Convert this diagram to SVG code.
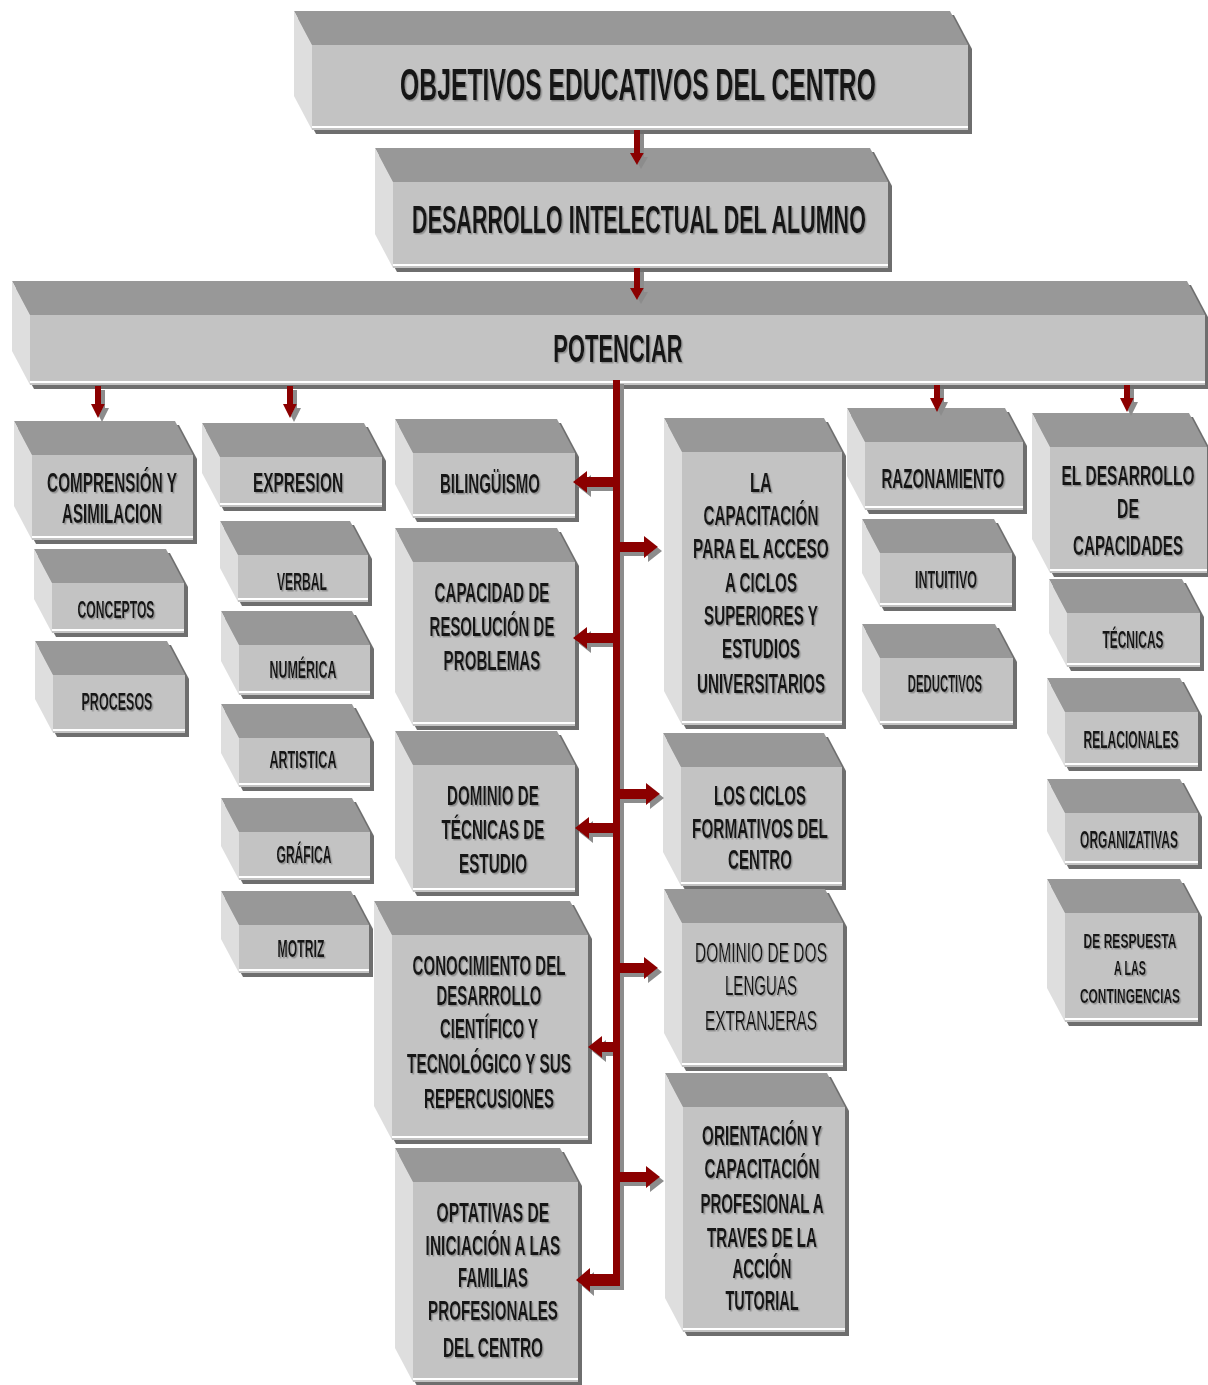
<svg xmlns="http://www.w3.org/2000/svg" width="1208" height="1385" viewBox="0 0 1208 1385">
<defs>
<filter id="bs" x="-5%" y="-10%" width="115%" height="130%"><feDropShadow dx="4" dy="4" stdDeviation="0.4" flood-color="#6e6e6e" flood-opacity="1"/></filter>
<filter id="ts" x="-5%" y="-20%" width="115%" height="150%"><feDropShadow dx="2.5" dy="1.5" stdDeviation="0.5" flood-color="#8a8a8a" flood-opacity="0.9"/></filter>
<filter id="cs" x="-5%" y="-5%" width="115%" height="115%"><feDropShadow dx="4" dy="4" stdDeviation="0.5" flood-color="#8c8c8c" flood-opacity="1"/></filter>
<style>
.top{fill:#989898}
.side{fill:#dedede}
.front{fill:#c3c3c3}
.hl{stroke:#ffffff;stroke-width:2}
text{font-family:"Liberation Sans",Arial,sans-serif;font-weight:bold;fill:#141414;text-anchor:middle;filter:url(#ts)}
.xl{font-size:44px}
.l{font-size:39px}
.m{font-size:28px}
.s{font-size:23px}
.xs{font-size:21px}
.nb{font-weight:normal}
.arr{fill:#8b0000}
</style>
</defs>
<rect width="1208" height="1385" fill="#ffffff"/>

<g id="n-objetivos"><g transform="translate(312,45)" filter="url(#bs)"><polygon class="top" points="-18,-34 638,-34 656,0 0,0"/><polygon class="side" points="-18,-34 0,0 0,85 -18,51"/><rect class="front" width="656" height="85"/><line class="hl" x1="0" y1="82" x2="656" y2="82"/></g>
<g transform="matrix(0.55 0 0 1 287.1 0)"><text class="xl" x="638" y="100" textLength="865" lengthAdjust="spacingAndGlyphs">OBJETIVOS EDUCATIVOS DEL CENTRO</text></g></g>

<g id="n-desarrollo"><g transform="translate(393,182)" filter="url(#bs)"><polygon class="top" points="-18,-34 477,-34 495,0 0,0"/><polygon class="side" points="-18,-34 0,0 0,86 -18,52"/><rect class="front" width="495" height="86"/><line class="hl" x1="0" y1="83" x2="495" y2="83"/></g>
<g transform="matrix(0.55 0 0 1 287.55 0)"><text class="l" x="639" y="233" textLength="825" lengthAdjust="spacingAndGlyphs">DESARROLLO INTELECTUAL DEL ALUMNO</text></g></g>

<g id="n-potenciar"><g transform="translate(30,315)" filter="url(#bs)"><polygon class="top" points="-18,-34 1157,-34 1175,0 0,0"/><polygon class="side" points="-18,-34 0,0 0,70 -18,36"/><rect class="front" width="1175" height="70"/><line class="hl" x1="0" y1="67" x2="1175" y2="67"/></g>
<g transform="matrix(0.55 0 0 1 278.1 0)"><text class="l" x="618" y="362" textLength="235" lengthAdjust="spacingAndGlyphs">POTENCIAR</text></g></g>

<g id="n-comprension"><g transform="translate(32,455)" filter="url(#bs)"><polygon class="top" points="-18,-34 143,-34 161,0 0,0"/><polygon class="side" points="-18,-34 0,0 0,85 -18,51"/><rect class="front" width="161" height="85"/><line class="hl" x1="0" y1="82" x2="161" y2="82"/></g>
<g transform="matrix(0.55 0 0 1 50.4 0)"><text class="m" x="112" y="492" textLength="236" lengthAdjust="spacingAndGlyphs">COMPRENSIÓN Y</text>
<text class="m" x="112" y="523" textLength="182" lengthAdjust="spacingAndGlyphs">ASIMILACION</text></g></g>

<g id="n-expresion"><g transform="translate(220,457)" filter="url(#bs)"><polygon class="top" points="-18,-34 144,-34 162,0 0,0"/><polygon class="side" points="-18,-34 0,0 0,50 -18,16"/><rect class="front" width="162" height="50"/><line class="hl" x1="0" y1="47" x2="162" y2="47"/></g>
<g transform="matrix(0.55 0 0 1 134.1 0)"><text class="m" x="298" y="492" textLength="164" lengthAdjust="spacingAndGlyphs">EXPRESION</text></g></g>

<g id="n-conceptos"><g transform="translate(52,583)" filter="url(#bs)"><polygon class="top" points="-18,-34 114,-34 132,0 0,0"/><polygon class="side" points="-18,-34 0,0 0,50 -18,16"/><rect class="front" width="132" height="50"/><line class="hl" x1="0" y1="47" x2="132" y2="47"/></g>
<g transform="matrix(0.55 0 0 1 52.2 0)"><text class="s" x="116" y="618" textLength="140" lengthAdjust="spacingAndGlyphs">CONCEPTOS</text></g></g>

<g id="n-procesos"><g transform="translate(53,675)" filter="url(#bs)"><polygon class="top" points="-18,-34 114,-34 132,0 0,0"/><polygon class="side" points="-18,-34 0,0 0,58 -18,24"/><rect class="front" width="132" height="58"/><line class="hl" x1="0" y1="55" x2="132" y2="55"/></g>
<g transform="matrix(0.55 0 0 1 52.65 0)"><text class="s" x="117" y="710" textLength="129" lengthAdjust="spacingAndGlyphs">PROCESOS</text></g></g>

<g id="n-verbal"><g transform="translate(238,555)" filter="url(#bs)"><polygon class="top" points="-18,-34 112,-34 130,0 0,0"/><polygon class="side" points="-18,-34 0,0 0,47 -18,13"/><rect class="front" width="130" height="47"/><line class="hl" x1="0" y1="44" x2="130" y2="44"/></g>
<g transform="matrix(0.55 0 0 1 135.9 0)"><text class="s" x="302" y="590" textLength="91" lengthAdjust="spacingAndGlyphs">VERBAL</text></g></g>

<g id="n-numerica"><g transform="translate(239,645)" filter="url(#bs)"><polygon class="top" points="-18,-34 113,-34 131,0 0,0"/><polygon class="side" points="-18,-34 0,0 0,50 -18,16"/><rect class="front" width="131" height="50"/><line class="hl" x1="0" y1="47" x2="131" y2="47"/></g>
<g transform="matrix(0.55 0 0 1 136.35 0)"><text class="s" x="303" y="678" textLength="122" lengthAdjust="spacingAndGlyphs">NUMÉRICA</text></g></g>

<g id="n-artistica"><g transform="translate(239,738)" filter="url(#bs)"><polygon class="top" points="-18,-34 113,-34 131,0 0,0"/><polygon class="side" points="-18,-34 0,0 0,49 -18,15"/><rect class="front" width="131" height="49"/><line class="hl" x1="0" y1="46" x2="131" y2="46"/></g>
<g transform="matrix(0.55 0 0 1 136.35 0)"><text class="s" x="303" y="768" textLength="122" lengthAdjust="spacingAndGlyphs">ARTISTICA</text></g></g>

<g id="n-grafica"><g transform="translate(239,832)" filter="url(#bs)"><polygon class="top" points="-18,-34 113,-34 131,0 0,0"/><polygon class="side" points="-18,-34 0,0 0,48 -18,14"/><rect class="front" width="131" height="48"/><line class="hl" x1="0" y1="45" x2="131" y2="45"/></g>
<g transform="matrix(0.55 0 0 1 136.8 0)"><text class="s" x="304" y="863" textLength="100" lengthAdjust="spacingAndGlyphs">GRÁFICA</text></g></g>

<g id="n-motriz"><g transform="translate(239,925)" filter="url(#bs)"><polygon class="top" points="-18,-34 112,-34 130,0 0,0"/><polygon class="side" points="-18,-34 0,0 0,48 -18,14"/><rect class="front" width="130" height="48"/><line class="hl" x1="0" y1="45" x2="130" y2="45"/></g>
<g transform="matrix(0.55 0 0 1 135.45 0)"><text class="s" x="301" y="957" textLength="85" lengthAdjust="spacingAndGlyphs">MOTRIZ</text></g></g>

<g id="n-bilinguismo"><g transform="translate(413,453)" filter="url(#bs)"><polygon class="top" points="-18,-34 144,-34 162,0 0,0"/><polygon class="side" points="-18,-34 0,0 0,65 -18,31"/><rect class="front" width="162" height="65"/><line class="hl" x1="0" y1="62" x2="162" y2="62"/></g>
<g transform="matrix(0.55 0 0 1 220.5 0)"><text class="m" x="490" y="493" textLength="182" lengthAdjust="spacingAndGlyphs">BILINGÜISMO</text></g></g>

<g id="n-capacidad"><g transform="translate(413,562)" filter="url(#bs)"><polygon class="top" points="-18,-34 144,-34 162,0 0,0"/><polygon class="side" points="-18,-34 0,0 0,164 -18,130"/><rect class="front" width="162" height="164"/><line class="hl" x1="0" y1="161" x2="162" y2="161"/></g>
<g transform="matrix(0.55 0 0 1 221.4 0)"><text class="m" x="492" y="602" textLength="209" lengthAdjust="spacingAndGlyphs">CAPACIDAD DE</text>
<text class="m" x="492" y="636" textLength="227" lengthAdjust="spacingAndGlyphs">RESOLUCIÓN DE</text>
<text class="m" x="492" y="670" textLength="176" lengthAdjust="spacingAndGlyphs">PROBLEMAS</text></g></g>

<g id="n-dominio-tecnicas"><g transform="translate(413,765)" filter="url(#bs)"><polygon class="top" points="-18,-34 144,-34 162,0 0,0"/><polygon class="side" points="-18,-34 0,0 0,127 -18,93"/><rect class="front" width="162" height="127"/><line class="hl" x1="0" y1="124" x2="162" y2="124"/></g>
<g transform="matrix(0.55 0 0 1 221.85 0)"><text class="m" x="493" y="805" textLength="167" lengthAdjust="spacingAndGlyphs">DOMINIO DE</text>
<text class="m" x="493" y="839" textLength="187" lengthAdjust="spacingAndGlyphs">TÉCNICAS DE</text>
<text class="m" x="493" y="873" textLength="124" lengthAdjust="spacingAndGlyphs">ESTUDIO</text></g></g>

<g id="n-conocimiento"><g transform="translate(392,935)" filter="url(#bs)"><polygon class="top" points="-18,-34 178,-34 196,0 0,0"/><polygon class="side" points="-18,-34 0,0 0,205 -18,171"/><rect class="front" width="196" height="205"/><line class="hl" x1="0" y1="202" x2="196" y2="202"/></g>
<g transform="matrix(0.55 0 0 1 220.05 0)"><text class="m" x="489" y="975" textLength="278" lengthAdjust="spacingAndGlyphs">CONOCIMIENTO DEL</text>
<text class="m" x="489" y="1005" textLength="191" lengthAdjust="spacingAndGlyphs">DESARROLLO</text>
<text class="m" x="489" y="1038" textLength="178" lengthAdjust="spacingAndGlyphs">CIENTÍFICO Y</text>
<text class="m" x="489" y="1073" textLength="298" lengthAdjust="spacingAndGlyphs">TECNOLÓGICO Y SUS</text>
<text class="m" x="489" y="1108" textLength="236" lengthAdjust="spacingAndGlyphs">REPERCUSIONES</text></g></g>

<g id="n-optativas"><g transform="translate(413,1182)" filter="url(#bs)"><polygon class="top" points="-18,-34 147,-34 165,0 0,0"/><polygon class="side" points="-18,-34 0,0 0,200 -18,166"/><rect class="front" width="165" height="200"/><line class="hl" x1="0" y1="197" x2="165" y2="197"/></g>
<g transform="matrix(0.55 0 0 1 221.85 0)"><text class="m" x="493" y="1222" textLength="205" lengthAdjust="spacingAndGlyphs">OPTATIVAS DE</text>
<text class="m" x="493" y="1255" textLength="245" lengthAdjust="spacingAndGlyphs">INICIACIÓN A LAS</text>
<text class="m" x="493" y="1287" textLength="127" lengthAdjust="spacingAndGlyphs">FAMILIAS</text>
<text class="m" x="493" y="1320" textLength="236" lengthAdjust="spacingAndGlyphs">PROFESIONALES</text>
<text class="m" x="493" y="1357" textLength="182" lengthAdjust="spacingAndGlyphs">DEL CENTRO</text></g></g>

<g id="n-la-capacitacion"><g transform="translate(682,452)" filter="url(#bs)"><polygon class="top" points="-18,-34 142,-34 160,0 0,0"/><polygon class="side" points="-18,-34 0,0 0,273 -18,239"/><rect class="front" width="160" height="273"/><line class="hl" x1="0" y1="270" x2="160" y2="270"/></g>
<g transform="matrix(0.55 0 0 1 342.45 0)"><text class="m" x="761" y="492" textLength="40" lengthAdjust="spacingAndGlyphs">LA</text>
<text class="m" x="761" y="525" textLength="209" lengthAdjust="spacingAndGlyphs">CAPACITACIÓN</text>
<text class="m" x="761" y="558" textLength="247" lengthAdjust="spacingAndGlyphs">PARA EL ACCESO</text>
<text class="m" x="761" y="592" textLength="131" lengthAdjust="spacingAndGlyphs">A CICLOS</text>
<text class="m" x="761" y="625" textLength="207" lengthAdjust="spacingAndGlyphs">SUPERIORES Y</text>
<text class="m" x="761" y="658" textLength="142" lengthAdjust="spacingAndGlyphs">ESTUDIOS</text>
<text class="m" x="761" y="693" textLength="233" lengthAdjust="spacingAndGlyphs">UNIVERSITARIOS</text></g></g>

<g id="n-ciclos"><g transform="translate(681,767)" filter="url(#bs)"><polygon class="top" points="-18,-34 143,-34 161,0 0,0"/><polygon class="side" points="-18,-34 0,0 0,119 -18,85"/><rect class="front" width="161" height="119"/><line class="hl" x1="0" y1="116" x2="161" y2="116"/></g>
<g transform="matrix(0.55 0 0 1 342 0)"><text class="m" x="760" y="805" textLength="167" lengthAdjust="spacingAndGlyphs">LOS CICLOS</text>
<text class="m" x="760" y="838" textLength="247" lengthAdjust="spacingAndGlyphs">FORMATIVOS DEL</text>
<text class="m" x="760" y="869" textLength="116" lengthAdjust="spacingAndGlyphs">CENTRO</text></g></g>

<g id="n-lenguas"><g transform="translate(682,923)" filter="url(#bs)"><polygon class="top" points="-18,-34 143,-34 161,0 0,0"/><polygon class="side" points="-18,-34 0,0 0,144 -18,110"/><rect class="front" width="161" height="144"/><line class="hl" x1="0" y1="141" x2="161" y2="141"/></g>
<g transform="matrix(0.55 0 0 1 342.45 0)"><text class="m nb" x="761" y="962" textLength="240" lengthAdjust="spacingAndGlyphs">DOMINIO DE DOS</text>
<text class="m nb" x="761" y="995" textLength="131" lengthAdjust="spacingAndGlyphs">LENGUAS</text>
<text class="m nb" x="761" y="1030" textLength="204" lengthAdjust="spacingAndGlyphs">EXTRANJERAS</text></g></g>

<g id="n-orientacion"><g transform="translate(683,1107)" filter="url(#bs)"><polygon class="top" points="-18,-34 144,-34 162,0 0,0"/><polygon class="side" points="-18,-34 0,0 0,225 -18,191"/><rect class="front" width="162" height="225"/><line class="hl" x1="0" y1="222" x2="162" y2="222"/></g>
<g transform="matrix(0.55 0 0 1 342.9 0)"><text class="m" x="762" y="1145" textLength="218" lengthAdjust="spacingAndGlyphs">ORIENTACIÓN Y</text>
<text class="m" x="762" y="1178" textLength="209" lengthAdjust="spacingAndGlyphs">CAPACITACIÓN</text>
<text class="m" x="762" y="1213" textLength="224" lengthAdjust="spacingAndGlyphs">PROFESIONAL A</text>
<text class="m" x="762" y="1247" textLength="200" lengthAdjust="spacingAndGlyphs">TRAVES DE LA</text>
<text class="m" x="762" y="1278" textLength="107" lengthAdjust="spacingAndGlyphs">ACCIÓN</text>
<text class="m" x="762" y="1310" textLength="133" lengthAdjust="spacingAndGlyphs">TUTORIAL</text></g></g>

<g id="n-razonamiento"><g transform="translate(865,442)" filter="url(#bs)"><polygon class="top" points="-18,-34 140,-34 158,0 0,0"/><polygon class="side" points="-18,-34 0,0 0,68 -18,34"/><rect class="front" width="158" height="68"/><line class="hl" x1="0" y1="65" x2="158" y2="65"/></g>
<g transform="matrix(0.55 0 0 1 424.35 0)"><text class="m" x="943" y="488" textLength="224" lengthAdjust="spacingAndGlyphs">RAZONAMIENTO</text></g></g>

<g id="n-intuitivo"><g transform="translate(880,553)" filter="url(#bs)"><polygon class="top" points="-18,-34 114,-34 132,0 0,0"/><polygon class="side" points="-18,-34 0,0 0,54 -18,20"/><rect class="front" width="132" height="54"/><line class="hl" x1="0" y1="51" x2="132" y2="51"/></g>
<g transform="matrix(0.55 0 0 1 425.7 0)"><text class="s" x="946" y="588" textLength="113" lengthAdjust="spacingAndGlyphs">INTUITIVO</text></g></g>

<g id="n-deductivos"><g transform="translate(880,658)" filter="url(#bs)"><polygon class="top" points="-18,-34 115,-34 133,0 0,0"/><polygon class="side" points="-18,-34 0,0 0,67 -18,33"/><rect class="front" width="133" height="67"/><line class="hl" x1="0" y1="64" x2="133" y2="64"/></g>
<g transform="matrix(0.55 0 0 1 425.25 0)"><text class="s" x="945" y="692" textLength="135" lengthAdjust="spacingAndGlyphs">DEDUCTIVOS</text></g></g>

<g id="n-capacidades"><g transform="translate(1050,447)" filter="url(#bs)"><polygon class="top" points="-18,-34 139,-34 157,0 0,0"/><polygon class="side" points="-18,-34 0,0 0,126 -18,92"/><rect class="front" width="157" height="126"/><line class="hl" x1="0" y1="123" x2="157" y2="123"/></g>
<g transform="matrix(0.55 0 0 1 507.6 0)"><text class="m" x="1128" y="485" textLength="242" lengthAdjust="spacingAndGlyphs">EL DESARROLLO</text>
<text class="m" x="1128" y="518" textLength="40" lengthAdjust="spacingAndGlyphs">DE</text>
<text class="m" x="1128" y="555" textLength="200" lengthAdjust="spacingAndGlyphs">CAPACIDADES</text></g></g>

<g id="n-tecnicas"><g transform="translate(1067,613)" filter="url(#bs)"><polygon class="top" points="-18,-34 115,-34 133,0 0,0"/><polygon class="side" points="-18,-34 0,0 0,54 -18,20"/><rect class="front" width="133" height="54"/><line class="hl" x1="0" y1="51" x2="133" y2="51"/></g>
<g transform="matrix(0.55 0 0 1 509.85 0)"><text class="s" x="1133" y="648" textLength="111" lengthAdjust="spacingAndGlyphs">TÉCNICAS</text></g></g>

<g id="n-relacionales"><g transform="translate(1065,712)" filter="url(#bs)"><polygon class="top" points="-18,-34 115,-34 133,0 0,0"/><polygon class="side" points="-18,-34 0,0 0,55 -18,21"/><rect class="front" width="133" height="55"/><line class="hl" x1="0" y1="52" x2="133" y2="52"/></g>
<g transform="matrix(0.55 0 0 1 508.95 0)"><text class="s" x="1131" y="748" textLength="173" lengthAdjust="spacingAndGlyphs">RELACIONALES</text></g></g>

<g id="n-organizativas"><g transform="translate(1065,813)" filter="url(#bs)"><polygon class="top" points="-18,-34 115,-34 133,0 0,0"/><polygon class="side" points="-18,-34 0,0 0,52 -18,18"/><rect class="front" width="133" height="52"/><line class="hl" x1="0" y1="49" x2="133" y2="49"/></g>
<g transform="matrix(0.55 0 0 1 508.05 0)"><text class="s" x="1129" y="848" textLength="178" lengthAdjust="spacingAndGlyphs">ORGANIZATIVAS</text></g></g>

<g id="n-respuesta"><g transform="translate(1065,913)" filter="url(#bs)"><polygon class="top" points="-18,-34 115,-34 133,0 0,0"/><polygon class="side" points="-18,-34 0,0 0,109 -18,75"/><rect class="front" width="133" height="109"/><line class="hl" x1="0" y1="106" x2="133" y2="106"/></g>
<g transform="matrix(0.55 0 0 1 508.5 0)"><text class="xs" x="1130" y="948" textLength="169" lengthAdjust="spacingAndGlyphs">DE RESPUESTA</text>
<text class="xs" x="1130" y="975" textLength="58" lengthAdjust="spacingAndGlyphs">A LAS</text>
<text class="xs" x="1130" y="1003" textLength="182" lengthAdjust="spacingAndGlyphs">CONTINGENCIAS</text></g></g>

<g id="connectors" class="arr" filter="url(#cs)">
<path d="M634,130 H640 V153 H644 L637,165 L630,153 H634 Z"/>
<path d="M634,268 H640 V288 H644 L637,300 L630,288 H634 Z"/>
<path d="M95,386 H101 V404 H105 L98,418 L91,404 H95 Z"/>
<path d="M287,386 H293 V404 H297 L290,418 L283,404 H287 Z"/>
<path d="M934,385 H940 V398 H944 L937,412 L930,398 H934 Z"/>
<path d="M1124,385 H1130 V398 H1134 L1127,412 L1120,398 H1124 Z"/>
<rect x="613" y="380" width="7" height="906"/>
<path d="M616,477 H587 V471 L573,482 L587,493 V487 H616 Z"/>
<path d="M616,633 H587 V627 L573,638 L587,649 V643 H616 Z"/>
<path d="M616,823 H589 V817 L575,828 L589,839 V833 H616 Z"/>
<path d="M616,1042 H602 V1036 L588,1047 L602,1058 V1052 H616 Z"/>
<path d="M620,1274 H590 V1268 L576,1280 L590,1292 V1286 H620 Z"/>
<path d="M617,542 H644 V536 L658,547 L644,558 V552 H617 Z"/>
<path d="M617,789 H646 V783 L660,794 L646,805 V799 H617 Z"/>
<path d="M617,963 H644 V957 L658,968 L644,979 V973 H617 Z"/>
<path d="M617,1172 H646 V1166 L660,1177 L646,1188 V1182 H617 Z"/>
</g>
</svg>
